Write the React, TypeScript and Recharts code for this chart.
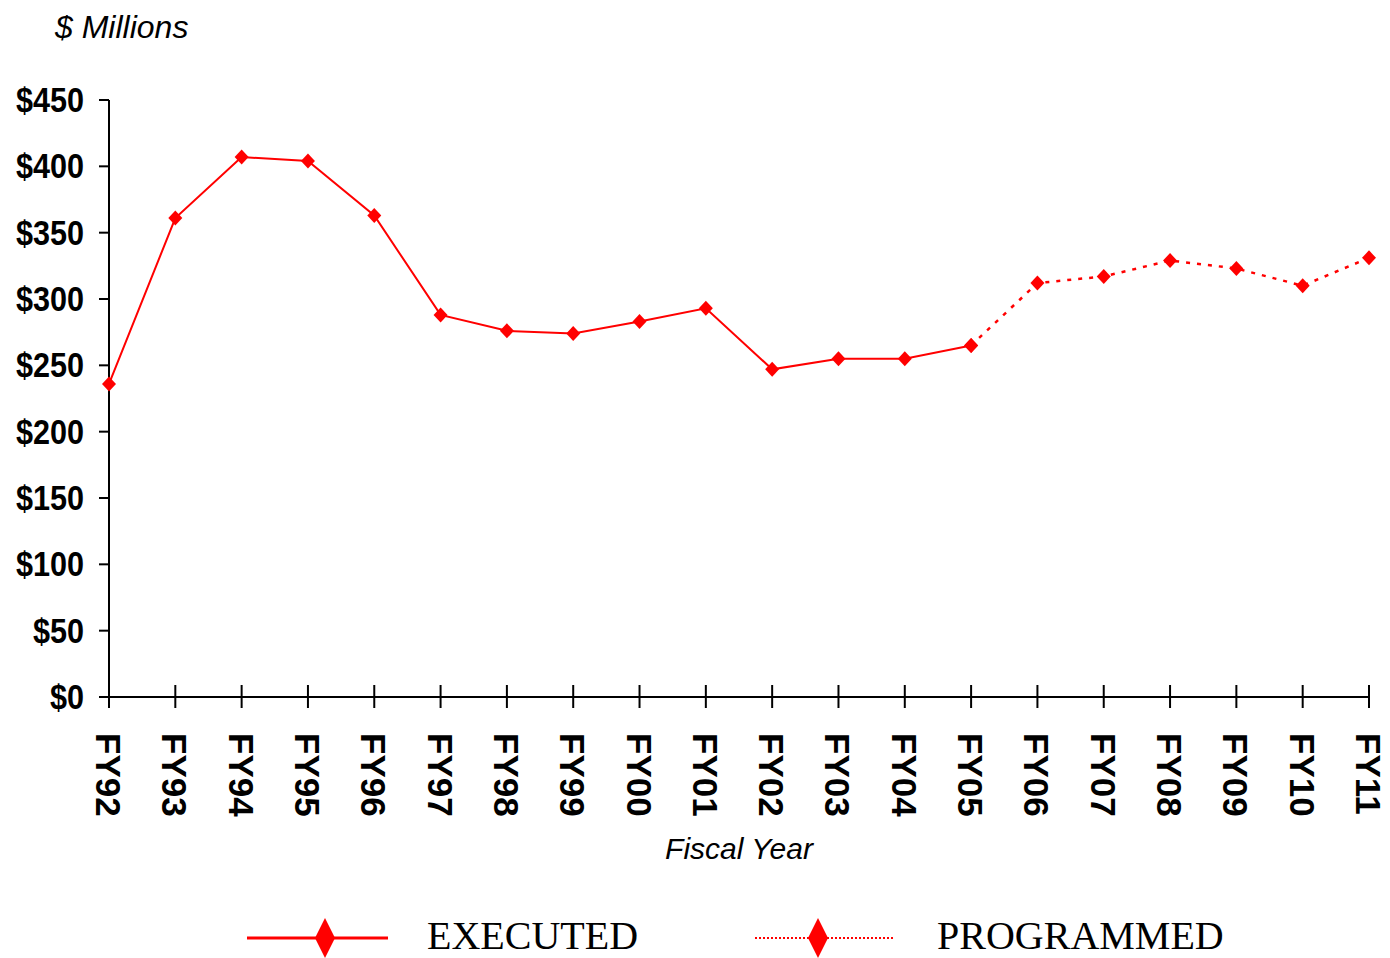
import { LineChart, Line, XAxis, YAxis, Legend, Label } from 'recharts'

const years = ['FY92', 'FY93', 'FY94', 'FY95', 'FY96', 'FY97', 'FY98', 'FY99', 'FY00', 'FY01',
  'FY02', 'FY03', 'FY04', 'FY05', 'FY06', 'FY07', 'FY08', 'FY09', 'FY10', 'FY11']

// $ millions
const executed = [236, 361, 407, 404, 363, 288, 276, 274, 283, 293, 247, 255, 255, 265]
const programmed = [265, 312, 317, 329, 323, 310, 331]

const yTicks = [0, 50, 100, 150, 200, 250, 300, 350, 400, 450]

const RED = '#FF0000'
const SANS = '"Liberation Sans", Arial, sans-serif'
const SERIF = '"Liberation Serif", "Times New Roman", serif'

const firstProgrammed = executed.length - 1

const data = years.map((year, i) => ({
  year,
  executed: i < executed.length ? executed[i] : undefined,
  programmed: i >= firstProgrammed ? programmed[i - firstProgrammed] : undefined
}))

const Diamond = (props: any) => {
  const { cx, cy } = props
  if (cx == null || cy == null || props.value == null) return null
  return <path d={`M${cx},${cy - 7.5} L${cx + 7},${cy} L${cx},${cy + 7.5} L${cx - 7},${cy} Z`} fill={RED} />
}

const YearTick = (props: any) => {
  const { x, y, payload } = props
  return (
    <g>
      <line x1={x} x2={x} y1={y - 12} y2={y + 11} stroke="#000" strokeWidth={2} />
      <text
        transform={`translate(${x - 13}, ${y + 36}) rotate(90)`}
        fontFamily={SANS}
        fontWeight="bold"
        fontSize={35}
        fill="#000"
        textAnchor="start"
      >
        {payload.value}
      </text>
    </g>
  )
}

// condensed bold labels, like Arial Narrow
const MoneyTick = (props: any) => {
  const { x, y, payload } = props
  return (
    <text
      transform={`translate(${x}, ${y + 12}) scale(0.85, 1)`}
      fontFamily={SANS}
      fontWeight="bold"
      fontSize={36}
      fill="#000"
      textAnchor="end"
    >
      ${payload.value}
    </text>
  )
}

const LegendBox = () => (
  <svg width={1390} height={71} style={{ display: 'block' }}>
    <line x1={247} x2={388} y1={51} y2={51} stroke={RED} strokeWidth={3} />
    <path d="M325,31 L335,51 L325,71 L315,51 Z" fill={RED} />
    <text x={427} y={62} fontFamily={SERIF} fontSize={40} fill="#000">EXECUTED</text>
    <line x1={755} x2={893} y1={51} y2={51} stroke={RED} strokeWidth={2} strokeDasharray="2 2" />
    <path d="M818,31 L828,51 L818,71 L808,51 Z" fill={RED} />
    <text x={937} y={62} fontFamily={SERIF} fontSize={40} fill="#000">PROGRAMMED</text>
  </svg>
)

export default function App() {
  return (
    <div style={{ position: 'absolute', left: 0, top: 0, width: 1390, height: 958, background: '#fff' }}>
      <LineChart width={1390} height={958} data={data} margin={{ top: 100, right: 21, bottom: 0, left: 9 }}>
        <XAxis
          dataKey="year"
          scale="point"
          padding={{ left: 0, right: 0 }}
          height={190}
          tickSize={0}
          tickMargin={0}
          tickLine={false}
          axisLine={{ stroke: '#000', strokeWidth: 2 }}
          tick={<YearTick />}
          interval={0}
        >
          <Label
            content={(p: any) => {
              const vb = p.viewBox
              return (
                <text x={vb.x + vb.width / 2} y={859} textAnchor="middle" fontFamily={SANS} fontStyle="italic" fontSize={30} fill="#000">
                  Fiscal Year
                </text>
              )
            }}
          />
        </XAxis>
        <YAxis
          width={100}
          domain={[0, 450]}
          ticks={yTicks}
          interval={0}
          tickSize={10}
          tickMargin={15}
          tickLine={{ stroke: '#000', strokeWidth: 2 }}
          axisLine={{ stroke: '#000', strokeWidth: 2 }}
          tick={<MoneyTick />}
        >
          <Label
            content={() => (
              <text x={55} y={38} fontFamily={SANS} fontStyle="italic" fontSize={32} fill="#000">
                $ Millions
              </text>
            )}
          />
        </YAxis>
        <Legend verticalAlign="bottom" height={71} wrapperStyle={{ left: 0, width: 1390 }} content={<LegendBox />} />
        <Line
          dataKey="executed"
          name="EXECUTED"
          stroke={RED}
          strokeWidth={2}
          dot={<Diamond />}
          activeDot={false}
          isAnimationActive={false}
          connectNulls={false}
        />
        <Line
          dataKey="programmed"
          name="PROGRAMMED"
          stroke={RED}
          strokeWidth={2.5}
          strokeDasharray="4 7"
          dot={<Diamond />}
          activeDot={false}
          isAnimationActive={false}
          connectNulls={false}
        />
      </LineChart>
    </div>
  )
}
